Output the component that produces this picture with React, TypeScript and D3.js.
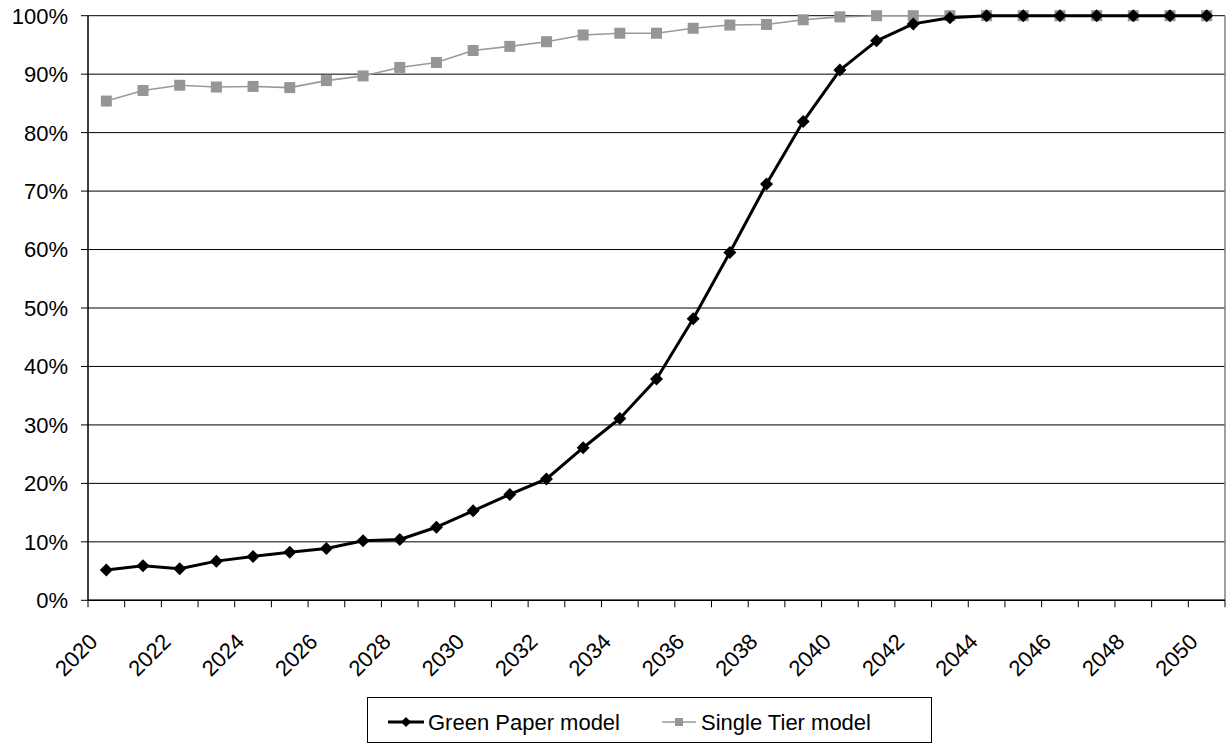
import React from 'react';
import * as d3 from 'd3';

// years on the category axis
const years: number[] = [
  2020, 2021, 2022, 2023, 2024, 2025, 2026, 2027, 2028, 2029, 2030,
  2031, 2032, 2033, 2034, 2035, 2036, 2037, 2038, 2039, 2040,
  2041, 2042, 2043, 2044, 2045, 2046, 2047, 2048, 2049, 2050,
];

// Green Paper model (%)
const greenPaper: number[] = [
  5.2, 5.9, 5.4, 6.7, 7.5, 8.2, 8.85, 10.2, 10.4, 12.5, 15.3,
  18.1, 20.75, 26.1, 31.1, 37.85, 48.15, 59.5, 71.2, 81.9, 90.7,
  95.7, 98.6, 99.65, 100, 100, 100, 100, 100, 100, 100,
];

// Single Tier model (%)
const singleTier: number[] = [
  85.4, 87.2, 88.1, 87.8, 87.9, 87.7, 88.9, 89.7, 91.15, 92.0, 94.05,
  94.75, 95.55, 96.7, 97.0, 97.0, 97.85, 98.4, 98.5, 99.3, 99.8,
  100, 100, 100, 100, 100, 100, 100, 100, 100, 100,
];

const yTicks: number[] = [0, 10, 20, 30, 40, 50, 60, 70, 80, 90, 100];
const xLabelYears: number[] = years.filter((y) => (y - 2020) % 2 === 0);

const seriesNames: string[] = ['Green Paper model', 'Single Tier model'];

const W = 1230;
const H = 744;
const FONT = '"Liberation Sans", Arial, sans-serif';

const App: React.FC = () => {
  const x = d3.scaleBand<number>().domain(years).range([88, 1225]).padding(0);
  const y = d3.scaleLinear().domain([0, 100]).range([600.3, 15.7]);
  const cx = (yr: number) => (x(yr) as number) + x.bandwidth() / 2;

  const line = d3
    .line<number>()
    .x((_, i) => cx(years[i]))
    .y((d) => y(d));

  const diamond = (px: number, py: number, r: number) =>
    `M${px},${py - r}L${px + r},${py}L${px},${py + r}L${px - r},${py}Z`;

  const [x0, x1] = x.range();
  const boundaries = d3.range(years.length + 1).map((i) => x0 + i * x.bandwidth());

  return (
    <div style={{ position: 'absolute', left: 0, top: 0 }}>
      <svg width={W} height={H} style={{ display: 'block', background: '#fff' }} fontFamily={FONT}>
        {/* gridlines */}
        {yTicks.map((t) => (
          <line key={'g' + t} x1={x0} x2={x1} y1={y(t)} y2={y(t)} stroke="#000" strokeWidth={1} />
        ))}
        {/* right plot border */}
        <line x1={x1} x2={x1} y1={y(100)} y2={y(0)} stroke="#808080" strokeWidth={1.5} />
        {/* y axis */}
        <line x1={x0} x2={x0} y1={y(100)} y2={y(0)} stroke="#000" strokeWidth={1.5} />
        {yTicks.map((t) => (
          <g key={'yt' + t}>
            <line x1={x0 - 7} x2={x0} y1={y(t)} y2={y(t)} stroke="#000" strokeWidth={1} />
            <text x={68} y={y(t)} dy="0.36em" textAnchor="end" fontSize={22} fill="#000">
              {t}%
            </text>
          </g>
        ))}
        {/* x axis */}
        <line x1={x0} x2={x1} y1={y(0)} y2={y(0)} stroke="#000" strokeWidth={1.5} />
        {boundaries.map((bx, i) => (
          <line key={'xt' + i} x1={bx} x2={bx} y1={y(0)} y2={y(0) + 7} stroke="#000" strokeWidth={1} />
        ))}
        {xLabelYears.map((yr) => (
          <text
            key={'xl' + yr}
            transform={`translate(${cx(yr) - 7.5},${643}) rotate(-45)`}
            textAnchor="end"
            fontSize={22}
            fill="#000"
          >
            {yr}
          </text>
        ))}

        {/* Single Tier series */}
        <path d={line(singleTier) ?? ''} fill="none" stroke="#999999" strokeWidth={1.6} />
        {singleTier.map((v, i) => (
          <rect key={'st' + i} x={cx(years[i]) - 5.5} y={y(v) - 5.5} width={11} height={11} fill="#969696" />
        ))}

        {/* Green Paper series */}
        <path d={line(greenPaper) ?? ''} fill="none" stroke="#000" strokeWidth={3} strokeLinejoin="round" />
        {greenPaper.map((v, i) => (
          <path key={'gp' + i} d={diamond(cx(years[i]), y(v), 6.5)} fill="#000" />
        ))}

        {/* legend */}
        <rect x={367.5} y={697.5} width={564} height={45} fill="#fff" stroke="#000" strokeWidth={1} />
        <line x1={388} x2={424} y1={722} y2={722} stroke="#000" strokeWidth={3} />
        <path d={diamond(406, 722, 5)} fill="#000" />
        <text x={428} y={722} dy="0.36em" fontSize={22} fill="#000">
          {seriesNames[0]}
        </text>
        <line x1={662} x2={696} y1={722} y2={722} stroke="#999999" strokeWidth={1.6} />
        <rect x={675} y={718} width={8} height={8} fill="#969696" />
        <text x={701} y={722} dy="0.36em" fontSize={22} fill="#000">
          {seriesNames[1]}
        </text>
      </svg>
    </div>
  );
};

export default App;
